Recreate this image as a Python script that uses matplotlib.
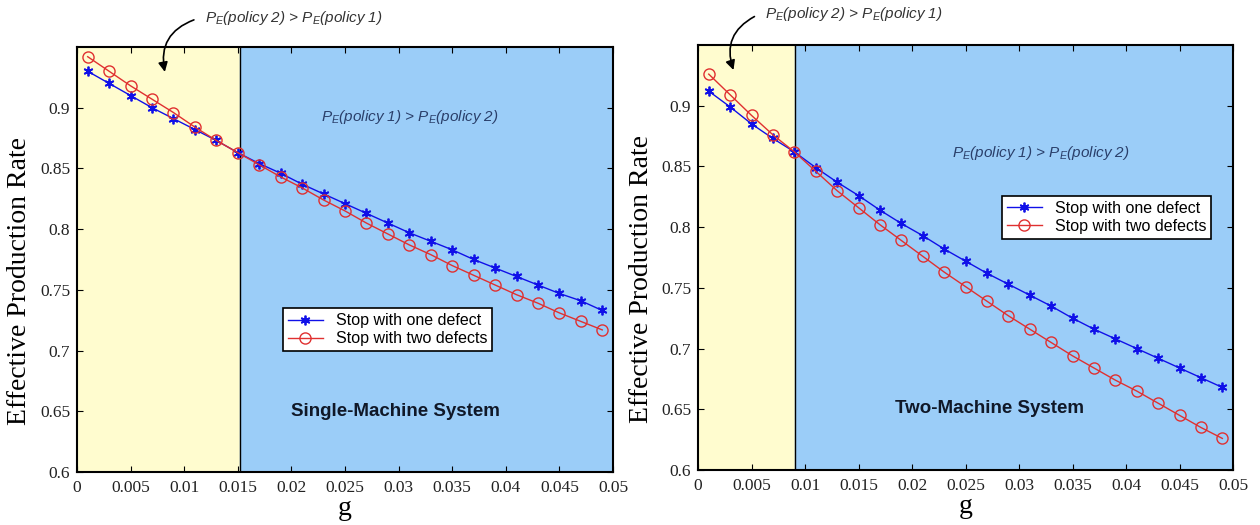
#required imports
import matplotlib
matplotlib.use("Agg")
import matplotlib.pyplot as plt

#==========================================
#chart data
#==========================================
g_values = [0.001, 0.003, 0.005, 0.007, 0.009, 0.011, 0.013, 0.015, 0.017,
            0.019, 0.021, 0.023, 0.025, 0.027, 0.029, 0.031, 0.033, 0.035,
            0.037, 0.039, 0.041, 0.043, 0.045, 0.047, 0.049]

# single-machine system
single_one_defect = [0.930, 0.920, 0.910, 0.900, 0.891, 0.882, 0.873, 0.863,
                     0.854, 0.846, 0.837, 0.829, 0.821, 0.813, 0.805, 0.797,
                     0.790, 0.783, 0.775, 0.768, 0.761, 0.754, 0.747, 0.741,
                     0.733]
single_two_defects = [0.942, 0.930, 0.918, 0.907, 0.896, 0.884, 0.873, 0.863,
                      0.853, 0.843, 0.834, 0.824, 0.815, 0.805, 0.796, 0.787,
                      0.779, 0.770, 0.762, 0.754, 0.746, 0.739, 0.731, 0.724,
                      0.717]

# two-machine system
two_one_defect = [0.912, 0.899, 0.885, 0.873, 0.862, 0.849, 0.837, 0.826,
                  0.814, 0.803, 0.793, 0.782, 0.772, 0.762, 0.753, 0.744,
                  0.735, 0.725, 0.716, 0.708, 0.700, 0.692, 0.684, 0.676,
                  0.668]
two_two_defects = [0.926, 0.909, 0.892, 0.876, 0.862, 0.846, 0.830, 0.816,
                   0.802, 0.789, 0.776, 0.763, 0.751, 0.739, 0.727, 0.716,
                   0.705, 0.694, 0.684, 0.674, 0.665, 0.655, 0.645, 0.635,
                   0.626]

# g where the two policies cross
single_switch = 0.0152
two_switch = 0.0091

x_ticks = [0, 0.005, 0.01, 0.015, 0.02, 0.025, 0.03, 0.035, 0.04, 0.045, 0.05]
x_tick_labels = ["0", "0.005", "0.01", "0.015", "0.02", "0.025", "0.03",
                 "0.035", "0.04", "0.045", "0.05"]
y_ticks = [0.6, 0.65, 0.7, 0.75, 0.8, 0.85, 0.9]
y_tick_labels = ["0.6", "0.65", "0.7", "0.75", "0.8", "0.85", "0.9"]

series_labels = ["Stop with one defect", "Stop with two defects"]

YELLOW = "#FFFCCF"
BLUE_BG = "#9BCDF8"
SERIF = ["Liberation Serif", "DejaVu Serif"]
SANS = ["Liberation Sans", "DejaVu Sans"]


#===========================================================================
#draws one panel: shaded regions, both curves, legend and labels
#===========================================================================
def draw_panel(ax, one_defect, two_defects, switch, title, legend_pos,
               inner_text_pos, title_pos):
  ax.set_xlim(0, 0.05)
  ax.set_ylim(0.6, 0.95)

  # background regions
  ax.axvspan(0, switch, color=YELLOW, zorder=0)
  ax.axvspan(switch, 0.05, color=BLUE_BG, zorder=0)
  ax.axvline(switch, color="black", lw=1.0, zorder=1)

  # curves
  ax.plot(g_values, one_defect, color="#1010E8", lw=1.0, marker=(6, 2, 0),
          ms=7, mew=1.3, label=series_labels[0], zorder=3)
  ax.plot(g_values, two_defects, color="#E03030", lw=1.0, marker="o",
          ms=8, mfc="none", mew=1.0, label=series_labels[1], zorder=3)

  # ticks
  ax.set_xticks(x_ticks)
  ax.set_xticklabels(x_tick_labels, family=SERIF, fontsize=12.5)
  ax.set_yticks(y_ticks)
  ax.set_yticklabels(y_tick_labels, family=SERIF, fontsize=12.5)
  ax.tick_params(direction="in", top=True, right=True, length=4,
                 labelcolor="#222222")
  ax.tick_params(axis="x", pad=6)
  ax.tick_params(axis="y", pad=5)
  for spine in ax.spines.values():
    spine.set_linewidth(1.5)

  ax.set_xlabel("g", family=SERIF, fontsize=20, labelpad=0)
  ax.set_ylabel("Effective Production Rate", family=SERIF, fontsize=20)
  ax.yaxis.set_label_coords(-0.083, 0.45)

  # legend
  leg = ax.legend(loc="upper left", bbox_to_anchor=legend_pos,
                  prop={"family": SANS, "size": 11.5}, fancybox=False,
                  framealpha=1, edgecolor="black", borderpad=0.3,
                  handlelength=2.2, labelspacing=0.2, borderaxespad=0)
  leg.get_frame().set_linewidth(1.2)

  # region text
  ax.text(inner_text_pos[0], inner_text_pos[1],
          r"$\mathit{P_E}$(policy 1) > $\mathit{P_E}$(policy 2)",
          transform=ax.transAxes, family=SANS, style="italic",
          fontsize=11, color="#2A3F6A", ha="center", va="center")
  ax.text(title_pos[0], title_pos[1], title, transform=ax.transAxes,
          family=SANS, fontweight="bold", fontsize=13.5, color="#101828",
          ha="center", va="center")


#===========================================================================
#top annotation with the curved arrow
#===========================================================================
def draw_top_note(ax, text_xy, arrow_to):
  ax.annotate("", xy=arrow_to, xycoords="axes fraction",
              xytext=(text_xy[0] - 0.015, text_xy[1] - 0.002),
              textcoords="axes fraction",
              arrowprops=dict(arrowstyle="-|>", color="black", lw=1.2,
                              mutation_scale=14,
                              connectionstyle="arc3,rad=0.45"),
              annotation_clip=False)
  ax.text(text_xy[0], text_xy[1],
          r"$\mathit{P_E}$(policy 2) > $\mathit{P_E}$(policy 1)",
          transform=ax.transAxes, family=SANS, style="italic",
          fontsize=11, color="#333333", ha="left", va="center")


def main():
  fig = plt.figure(figsize=(12.6, 5.25), dpi=100)
  plt.rcParams["mathtext.fontset"] = "custom"
  plt.rcParams["mathtext.it"] = "Liberation Sans:italic"
  plt.rcParams["mathtext.rm"] = "Liberation Sans"

  ax1 = fig.add_axes([0.0611, 0.1010, 0.4254, 0.8095])
  ax2 = fig.add_axes([0.5540, 0.1048, 0.4246, 0.8095])

  draw_panel(ax1, single_one_defect, single_two_defects, single_switch,
             "Single-Machine System", (0.384, 0.385), (0.62, 0.835),
             (0.595, 0.143))
  draw_panel(ax2, two_one_defect, two_two_defects, two_switch,
             "Two-Machine System", (0.568, 0.645), (0.64, 0.746),
             (0.545, 0.145))

  draw_top_note(ax1, (0.238, 1.068), (0.165, 0.935))
  draw_top_note(ax2, (0.125, 1.072), (0.068, 0.935))

  fig.savefig("out.png", dpi=100)


if __name__ == "__main__":
  main()
